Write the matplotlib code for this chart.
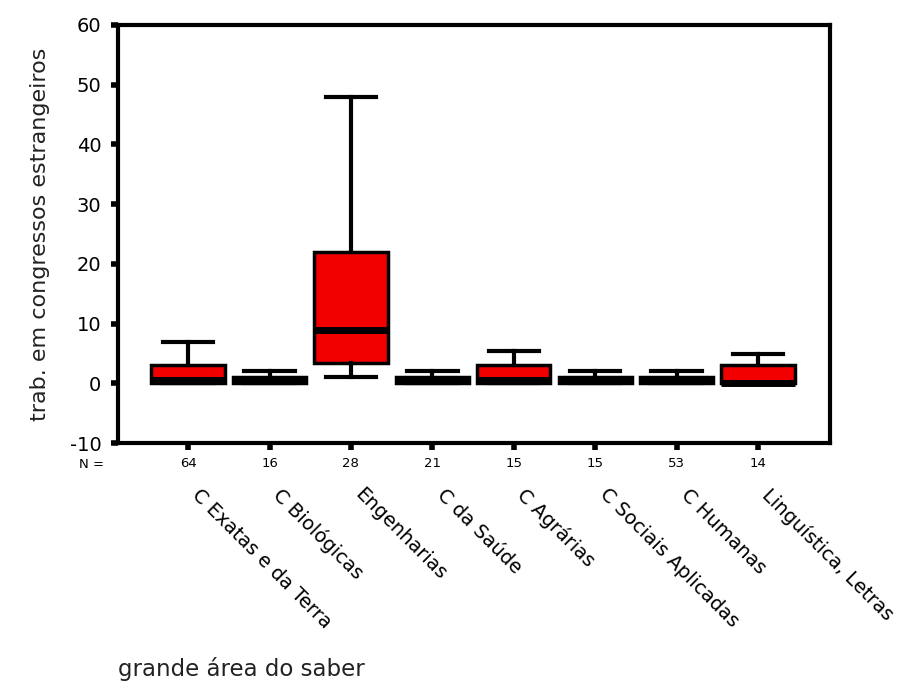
import matplotlib.pyplot as plt
import matplotlib.transforms as mtransforms

plt.rcParams["axes.unicode_minus"] = False

# grande área do saber
areas = ["C Exatas e da Terra", "C Biológicas", "Engenharias", "C da Saúde",
         "C Agrárias", "C Sociais Aplicadas", "C Humanas", "Linguística, Letras"]
n_casos = [64, 16, 28, 21, 15, 15, 53, 14]

# estatísticas
q1 = [0, 0, 3.5, 0, 0, 0, 0, 0]
mediana = [0.5, 0.5, 9, 0.5, 0.5, 0.5, 0.5, 0]
q3 = [3, 1, 22, 1, 3, 1, 1, 3]
bigode_inf = [0, 0, 1, 0, 0, 0, 0, 0]
bigode_sup = [7, 2, 48, 2, 5.5, 2, 2, 5]

stats = []
for i in range(len(areas)):
    stats.append(dict(q1=q1[i], med=mediana[i], q3=q3[i],
                      whislo=bigode_inf[i], whishi=bigode_sup[i],
                      fliers=[], label=str(n_casos[i])))

fig = plt.figure(figsize=(8.97, 6.86), dpi=100)
ax = fig.add_axes([0.1316, 0.354, 0.7934, 0.6096])

pos = list(range(1, len(areas) + 1))
ax.bxp(stats, positions=pos, widths=0.9, patch_artist=True, showfliers=False,
       boxprops=dict(facecolor="#f20000", edgecolor="black", linewidth=2.5),
       medianprops=dict(color="black", linewidth=5),
       whiskerprops=dict(color="black", linewidth=3),
       capprops=dict(color="black", linewidth=3), capwidths=0.62)

ax.set_xlim(0.14, 8.88)
ax.set_ylim(-10, 60)
ax.set_yticks(range(-10, 61, 10))
for s in ax.spines.values():
    s.set_linewidth(3)

ax.tick_params(axis="y", direction="out", length=5, width=4, labelsize=14, pad=7)
ax.tick_params(axis="x", direction="out", length=5, width=4, labelsize=9.5, pad=5)
ax.set_xticks(pos)
ax.set_xticklabels([str(n) for n in n_casos])

ax.set_ylabel("trab. em congressos estrangeiros", fontsize=16, labelpad=14,
              color="#222222")

trans = mtransforms.blended_transform_factory(ax.transData, ax.transAxes)
for p, nome in zip(pos, areas):
    ax.text(p + 0.17, -0.1, nome, transform=trans, rotation=-45,
            rotation_mode="anchor", ha="left", va="top", fontsize=14)
ax.text(-0.02, -0.036, "N =", transform=ax.transAxes, ha="right", va="top",
        fontsize=9.5)

fig.text(0.132, 0.008, "grande área do saber", fontsize=16.5, ha="left",
         va="bottom", color="#222222")

fig.savefig("out.png", dpi=100)
